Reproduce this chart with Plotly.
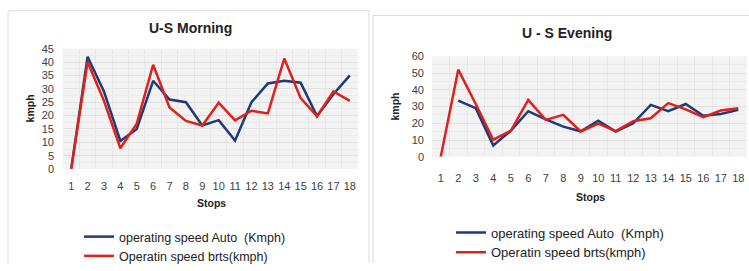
import plotly.graph_objects as go

W, H = 749, 271

stops = list(range(1, 19))

morning_auto = [0, 42, 29, 10.5, 15, 33, 26, 25, 16.3, 18.3, 10.7, 25, 32, 33, 32.3, 19.8, 28, 35]
morning_brts = [0, 40, 25.5, 7.8, 17, 39, 23, 18, 16.3, 24.8, 18.2, 21.8, 20.8, 41.3, 26.5, 19.8, 29, 25.5]

evening_auto = [None, 33.5, 29, 6.8, 15.5, 27.2, 22.3, 18, 15.2, 21.5, 15, 20, 31, 27.2, 31.5, 24.5, 25.5, 28]
evening_brts = [0, 52, 31.5, 10.2, 15.5, 34, 22, 25, 15.1, 19.8, 15.3, 21.2, 23, 32, 28.3, 23.6, 27.6, 29]

name_auto = "operating speed Auto  (Kmph)"
name_brts = "Operatin speed brts(kmph)"
titles = ["U-S Morning", "U - S Evening"]
y_ticks_m = list(range(0, 50, 5))
y_ticks_e = list(range(0, 70, 10))

BLUE = "#1f3a78"
RED = "#e0201b"
FONT = "Liberation Sans, Arial, sans-serif"
TXT = "#404040"
BORDER = "#dcdcdc"


def px(x):
    return x / W


def py(y):
    return 1 - y / H


fig = go.Figure()

fig.add_trace(go.Scatter(x=stops, y=morning_auto, mode="lines", name=name_auto,
                         line=dict(color=BLUE, width=2.5), xaxis="x", yaxis="y", legend="legend"))
fig.add_trace(go.Scatter(x=stops, y=morning_brts, mode="lines", name=name_brts,
                         line=dict(color=RED, width=2.5), xaxis="x", yaxis="y", legend="legend"))
fig.add_trace(go.Scatter(x=stops, y=evening_auto, mode="lines", name=name_auto,
                         line=dict(color=BLUE, width=2.5), xaxis="x2", yaxis="y2", legend="legend2"))
fig.add_trace(go.Scatter(x=stops, y=evening_brts, mode="lines", name=name_brts,
                         line=dict(color=RED, width=2.5), xaxis="x2", yaxis="y2", legend="legend2"))

half = [i + 0.5 for i in range(0, 19)]

common_x = dict(range=[0.5, 18.5], tickvals=stops, ticktext=[str(s) for s in stops],
                showgrid=False, zeroline=False, showline=False, ticks="",
                tickfont=dict(family=FONT, size=11, color=TXT),
                minor=dict(tickvals=half, showgrid=True, gridcolor="#e6e6e6", gridwidth=1))
common_y = dict(showgrid=True, gridcolor="#e2e2e2", gridwidth=1, zeroline=False, showline=False,
                ticks="", tickfont=dict(family=FONT, size=11, color=TXT))


def vline(x, y0, y1):
    return dict(type="line", xref="paper", yref="paper", x0=px(x), x1=px(x), y0=py(y0), y1=py(y1),
                line=dict(color=BORDER, width=1), layer="below")


def hline(x0, x1, y):
    return dict(type="line", xref="paper", yref="paper", x0=px(x0), x1=px(x1), y0=py(y), y1=py(y),
                line=dict(color=BORDER, width=1), layer="below")


fig.update_layout(
    width=W, height=H,
    margin=dict(l=0, r=0, t=0, b=0),
    paper_bgcolor="white",
    plot_bgcolor="#f3f3f3",
    showlegend=True,
    xaxis=dict(domain=[px(63), px(358)], anchor="y", ticklabelstandoff=9, **common_x),
    yaxis=dict(domain=[py(172), py(45)], anchor="x", range=[0, 45], tickvals=y_ticks_m,
               ticklabelstandoff=8, minor=dict(dtick=2.5, showgrid=True, gridcolor="#ebebeb"), **common_y),
    xaxis2=dict(domain=[px(432), px(747)], anchor="y2", ticklabelstandoff=13, **common_x),
    yaxis2=dict(domain=[py(159), py(53)], anchor="x2", range=[0, 60], tickvals=y_ticks_e,
                ticklabelstandoff=7, minor=dict(dtick=5, showgrid=True, gridcolor="#ebebeb"), **common_y),
    legend=dict(x=px(79), y=py(228), xanchor="left", yanchor="top", bgcolor="rgba(0,0,0,0)",
                font=dict(family=FONT, size=12.5, color="#222"), itemwidth=30, tracegroupgap=0),
    legend2=dict(x=px(451), y=py(223), xanchor="left", yanchor="top", bgcolor="rgba(0,0,0,0)",
                 font=dict(family=FONT, size=13, color="#222"), itemwidth=30, tracegroupgap=0),
    shapes=[
        vline(8, 271, 5), hline(8, 369, 5), vline(369, 271, 5),
        vline(373, 271, 10), hline(373, 749, 10),
    ],
    annotations=[
        dict(text="<b>" + titles[0] + "</b>", x=px(190), y=py(23), xref="paper", yref="paper",
             showarrow=False, font=dict(family=FONT, size=14, color="#222"), xanchor="center", yanchor="middle"),
        dict(text="<b>" + titles[1] + "</b>", x=px(567), y=py(28), xref="paper", yref="paper",
             showarrow=False, font=dict(family=FONT, size=14, color="#222"), xanchor="center", yanchor="middle"),
        dict(text="<b>kmph</b>", x=px(30), y=py(108), xref="paper", yref="paper", textangle=-90,
             showarrow=False, font=dict(family=FONT, size=10.5, color="#222"), xanchor="center", yanchor="middle"),
        dict(text="<b>kmph</b>", x=px(395), y=py(106), xref="paper", yref="paper", textangle=-90,
             showarrow=False, font=dict(family=FONT, size=10.5, color="#222"), xanchor="center", yanchor="middle"),
        dict(text="<b>Stops</b>", x=px(211), y=py(208), xref="paper", yref="paper",
             showarrow=False, font=dict(family=FONT, size=10.5, color="#222"), xanchor="center", yanchor="middle"),
        dict(text="<b>Stops</b>", x=px(590), y=py(201), xref="paper", yref="paper",
             showarrow=False, font=dict(family=FONT, size=10.5, color="#222"), xanchor="center", yanchor="middle"),
    ],
)

fig.write_html("out.html", config={"displayModeBar": False},
               post_script="document.body.style.margin='0';document.body.style.overflow='hidden';")
